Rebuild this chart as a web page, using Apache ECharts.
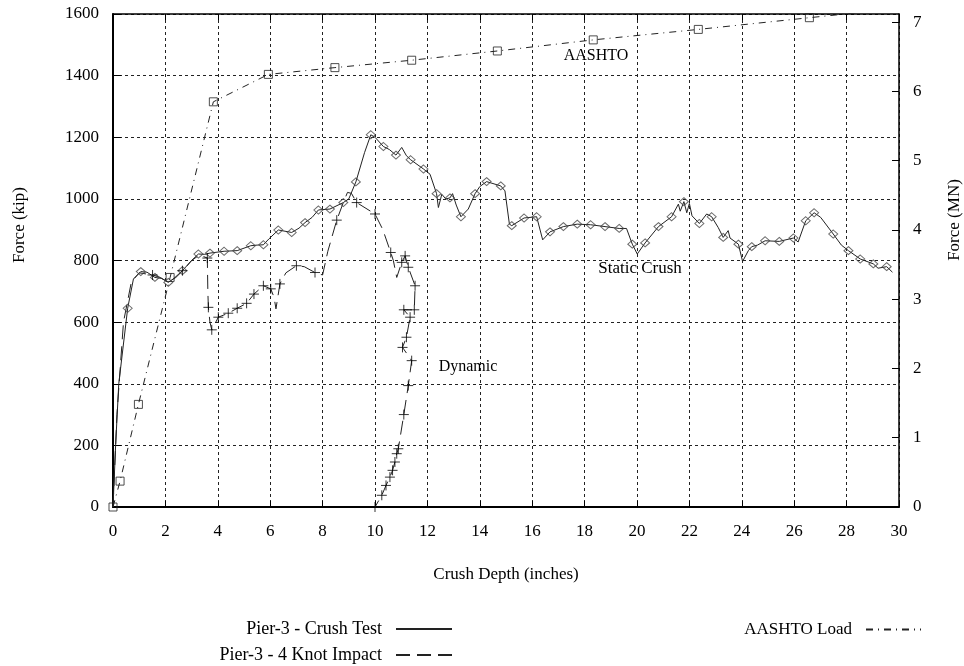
<!DOCTYPE html>
<html><head><meta charset="utf-8">
<script src="https://cdn.jsdelivr.net/npm/echarts@6/dist/echarts.min.js"></script>
<style>html,body{margin:0;padding:0;background:#fff}#c{width:964px;height:666px}</style>
</head><body><div id="c"></div>
<script>
// ---- Data ----
const crushX = [0,0.1,0.22,0.56,0.78,1.06,1.3,1.6,1.85,2.11,2.3,2.65,3.0,3.26,3.5,3.7,4.24,4.74,5.26,5.5,5.74,5.95,6.31,6.82,7.1,7.33,7.6,7.84,8.28,8.79,9.0,9.27,9.6,9.84,10.0,10.32,10.55,10.8,11.02,11.2,11.36,11.85,12.1,12.35,12.42,12.55,12.7,12.86,12.96,13.1,13.28,13.56,13.82,14.0,14.26,14.8,14.96,15.13,15.22,15.69,16.17,16.4,16.68,17.19,17.72,18.23,18.78,19.32,19.6,19.82,20.01,20.31,20.82,21.32,21.58,21.65,21.79,21.9,22.0,22.1,22.38,22.66,22.85,23.1,23.29,23.48,23.55,23.87,24.03,24.25,24.38,24.6,24.89,25.43,25.97,26.15,26.44,26.76,27.01,27.49,27.8,28.07,28.52,29.02,29.2,29.53,29.75];
const crushY = [0,200,400,645,740,764,762,745,742,729,740,767,800,821,820,824,830,832,848,850,851,870,899,891,905,923,940,964,967,988,1000,1055,1150,1208,1200,1170,1160,1142,1167,1140,1127,1097,1080,1017,972,1015,1000,1003,1017,980,942,967,1017,1040,1056,1042,1026,918,913,938,942,867,893,910,918,916,910,904,904,853,821,857,910,942,983,960,991,955,985,945,920,951,942,907,875,897,873,853,797,832,845,850,864,862,873,860,929,955,940,886,850,832,805,789,775,780,762];
const crushMarkX = [0.56,1.06,1.6,2.11,2.65,3.26,3.7,4.24,4.74,5.26,5.74,6.31,6.82,7.33,7.84,8.28,8.79,9.27,9.84,10.32,10.8,11.36,11.85,12.35,12.86,13.28,13.82,14.26,14.8,15.22,15.69,16.17,16.68,17.19,17.72,18.23,18.78,19.32,19.82,20.31,20.82,21.32,21.79,22.38,22.85,23.29,23.87,24.38,24.89,25.43,25.97,26.44,26.76,27.49,28.07,28.52,29.02,29.53];
const crushMarkY = [645,764,745,729,767,821,824,830,832,848,851,899,891,923,964,967,988,1055,1208,1170,1142,1127,1097,1017,1003,942,1017,1056,1042,913,938,942,893,910,918,916,910,904,853,857,910,942,991,920,942,875,853,845,864,862,873,929,955,886,832,805,789,780];

const impactX = [0,0.15,0.4,0.7,1.0,1.51,1.8,2.1,2.4,2.7,3.0,3.3,3.6,3.62,3.64,3.7,3.77,4.02,4.4,4.74,5.1,5.38,5.74,6.02,6.15,6.22,6.37,6.6,7.0,7.3,7.71,8.0,8.2,8.54,8.8,8.95,9.1,9.3,10.0,10.3,10.6,10.7,10.83,11.02,11.15,11.27,11.53,11.5,11.1,11.34,11.2,11.05,11.4,11.27,11.1,10.89,10.83,10.76,10.67,10.57,10.42,10.26,10.0];
const impactY = [0,300,600,730,760,753,745,730,745,770,800,818,808,700,648,600,575,616,629,645,661,691,718,708,680,643,724,760,783,780,761,753,830,931,990,1021,1018,988,951,900,826,800,745,794,815,778,718,640,640,616,551,518,475,394,300,189,173,146,119,97,70,38,0];
const impactMarkX = [1.51,2.65,3.6,3.64,3.77,4.02,4.4,4.74,5.1,5.38,5.74,6.02,6.37,7.0,7.71,8.54,9.3,10.0,10.6,11.02,11.15,11.27,11.53,11.5,11.1,11.34,11.2,11.05,11.4,11.27,11.1,10.89,10.83,10.76,10.67,10.57,10.42,10.26,10.0];
const impactMarkY = [753,767,808,648,575,616,629,645,661,691,718,708,724,783,761,931,988,951,826,794,815,778,718,640,640,616,551,518,475,394,300,189,173,146,119,97,70,38,0];

const aashtoX = [0,0.27,0.97,2.18,3.83,5.93,8.47,11.4,14.67,18.33,22.34,26.58,30];
const aashtoY = [0,84,333,745,1315,1404,1426,1450,1480,1516,1550,1588,1618];
const aashtoMarkX = [0,0.27,0.97,2.18,3.83,5.93,8.47,11.4,14.67,18.33,22.34,26.58];
const aashtoMarkY = [0,84,333,745,1315,1404,1426,1450,1480,1516,1550,1588];

const KIP_TO_MN = 0.0044482;
const X_MIN = 0, X_MAX = 30, X_STEP = 2;
const Y_MIN = 0, Y_MAX = 1600, Y_STEP = 200;

const FONT = '"Liberation Serif", "Times New Roman", serif';
const zip = (xs, ys) => xs.map((x, i) => [x, ys[i]]);

const chart = echarts.init(document.getElementById('c'), null, {renderer: 'canvas'});
const axisTxt = {fontFamily: FONT, fontSize: 17, color: '#000'};
const gridLine = {show: true, lineStyle: {color: '#222', width: 1, type: [3, 3]}};

chart.setOption({
  animation: false,
  backgroundColor: '#fff',
  grid: {left: 113, right: 65, top: 14, bottom: 159},
  xAxis: [
    {type: 'value', position: 'bottom', min: X_MIN, max: X_MAX, interval: X_STEP,
     axisLine: {onZero: false, lineStyle: {color: '#000', width: 2}},
     axisTick: {inside: true, length: 6, lineStyle: {color: '#000', width: 1}},
     axisLabel: Object.assign({margin: 16, formatter: v => String(v)}, axisTxt),
     splitLine: gridLine},
    {type: 'value', position: 'top', min: X_MIN, max: X_MAX, interval: X_STEP,
     axisLine: {onZero: false, lineStyle: {color: '#000', width: 1.5}},
     axisTick: {inside: true, length: 6, lineStyle: {color: '#000', width: 1}},
     axisLabel: {show: false}, splitLine: {show: false}}
  ],
  yAxis: [
    {type: 'value', position: 'left', min: Y_MIN, max: Y_MAX, interval: Y_STEP,
     axisLine: {show: true, onZero: false, lineStyle: {color: '#000', width: 2}},
     axisTick: {show: true, inside: true, length: 8, lineStyle: {color: '#000', width: 1}},
     axisLabel: Object.assign({margin: 14, formatter: v => String(v)}, axisTxt),
     splitLine: gridLine},
    {type: 'value', position: 'right', min: Y_MIN * KIP_TO_MN, max: Y_MAX * KIP_TO_MN, interval: 1,
     axisLine: {show: true, onZero: false, lineStyle: {color: '#000', width: 1.5}},
     axisTick: {show: true, inside: true, length: 7, lineStyle: {color: '#000', width: 1}},
     axisLabel: Object.assign({margin: 14, showMaxLabel: false,
       formatter: v => (Math.abs(v - Math.round(v)) < 1e-6 ? String(Math.round(v)) : '')}, axisTxt),
     splitLine: {show: false}}
  ],
  legend: [
    {data: ['Pier-3 - Crush Test', 'Pier-3 - 4 Knot Impact'], orient: 'vertical', align: 'right',
     right: 511, top: 620, padding: 0, itemWidth: 56, itemHeight: 14, itemGap: 8,
     selectedMode: false, itemStyle: {opacity: 0},
     textStyle: {fontFamily: FONT, fontSize: 18, color: '#000', padding: [0, 9, 0, 0]}},
    {data: ['AASHTO Load'], orient: 'vertical', align: 'right',
     right: 42, top: 621, padding: 0, itemWidth: 55, itemHeight: 14,
     selectedMode: false, itemStyle: {opacity: 0},
     textStyle: {fontFamily: FONT, fontSize: 17, color: '#000', padding: [0, 9, 0, 0]}}
  ],
  graphic: [
    {type: 'text', x: 20, y: 225, rotation: Math.PI / 2,
     style: {text: 'Force (kip)', fontFamily: FONT, fontSize: 17, fill: '#000', align: 'center', verticalAlign: 'middle'}},
    {type: 'text', x: 955, y: 220, rotation: Math.PI / 2,
     style: {text: 'Force (MN)', fontFamily: FONT, fontSize: 17, fill: '#000', align: 'center', verticalAlign: 'middle'}},
    {type: 'text', x: 506, y: 575,
     style: {text: 'Crush Depth (inches)', fontFamily: FONT, fontSize: 17, fill: '#000', align: 'center', verticalAlign: 'middle'}},
    {type: 'text', x: 596, y: 56,
     style: {text: 'AASHTO', fontFamily: FONT, fontSize: 16, fill: '#000', align: 'center', verticalAlign: 'middle'}},
    {type: 'text', x: 640, y: 269,
     style: {text: 'Static Crush', fontFamily: FONT, fontSize: 17, fill: '#000', align: 'center', verticalAlign: 'middle'}},
    {type: 'text', x: 468, y: 367,
     style: {text: 'Dynamic', fontFamily: FONT, fontSize: 16, fill: '#000', align: 'center', verticalAlign: 'middle'}}
  ],
  series: [
    {name: 'Pier-3 - Crush Test', type: 'line', data: zip(crushX, crushY), symbol: 'none', clip: true,
     lineStyle: {color: '#222', width: 1, type: 'solid'}, itemStyle: {color: '#222'}, silent: true, z: 3},
    {name: 'crushMarks', type: 'scatter', data: zip(crushMarkX, crushMarkY), symbol: 'diamond', symbolSize: [9, 8],
     itemStyle: {color: 'transparent', borderColor: '#444', borderWidth: 1}, silent: true, z: 4},
    {name: 'Pier-3 - 4 Knot Impact', type: 'line', data: zip(impactX, impactY), symbol: 'none', clip: true,
     lineStyle: {color: '#222', width: 1, type: [14, 7]}, itemStyle: {color: '#222'}, silent: true, z: 3},
    {name: 'impactMarks', type: 'scatter', data: zip(impactMarkX, impactMarkY),
     symbol: 'path://M0,5L10,5M5,0L5,10', symbolSize: 10,
     itemStyle: {color: 'none', borderColor: '#000', borderWidth: 1}, silent: true, z: 4},
    {name: 'AASHTO Load', type: 'line', data: zip(aashtoX, aashtoY), symbol: 'none', clip: true,
     lineStyle: {color: '#222', width: 1, type: [7, 5, 1, 5]}, itemStyle: {color: '#222'}, silent: true, z: 3},
    {name: 'aashtoMarks', type: 'scatter', data: zip(aashtoMarkX, aashtoMarkY), symbol: 'rect', symbolSize: 8,
     itemStyle: {color: 'transparent', borderColor: '#222', borderWidth: 1}, silent: true, z: 4}
  ]
});
</script></body></html>
